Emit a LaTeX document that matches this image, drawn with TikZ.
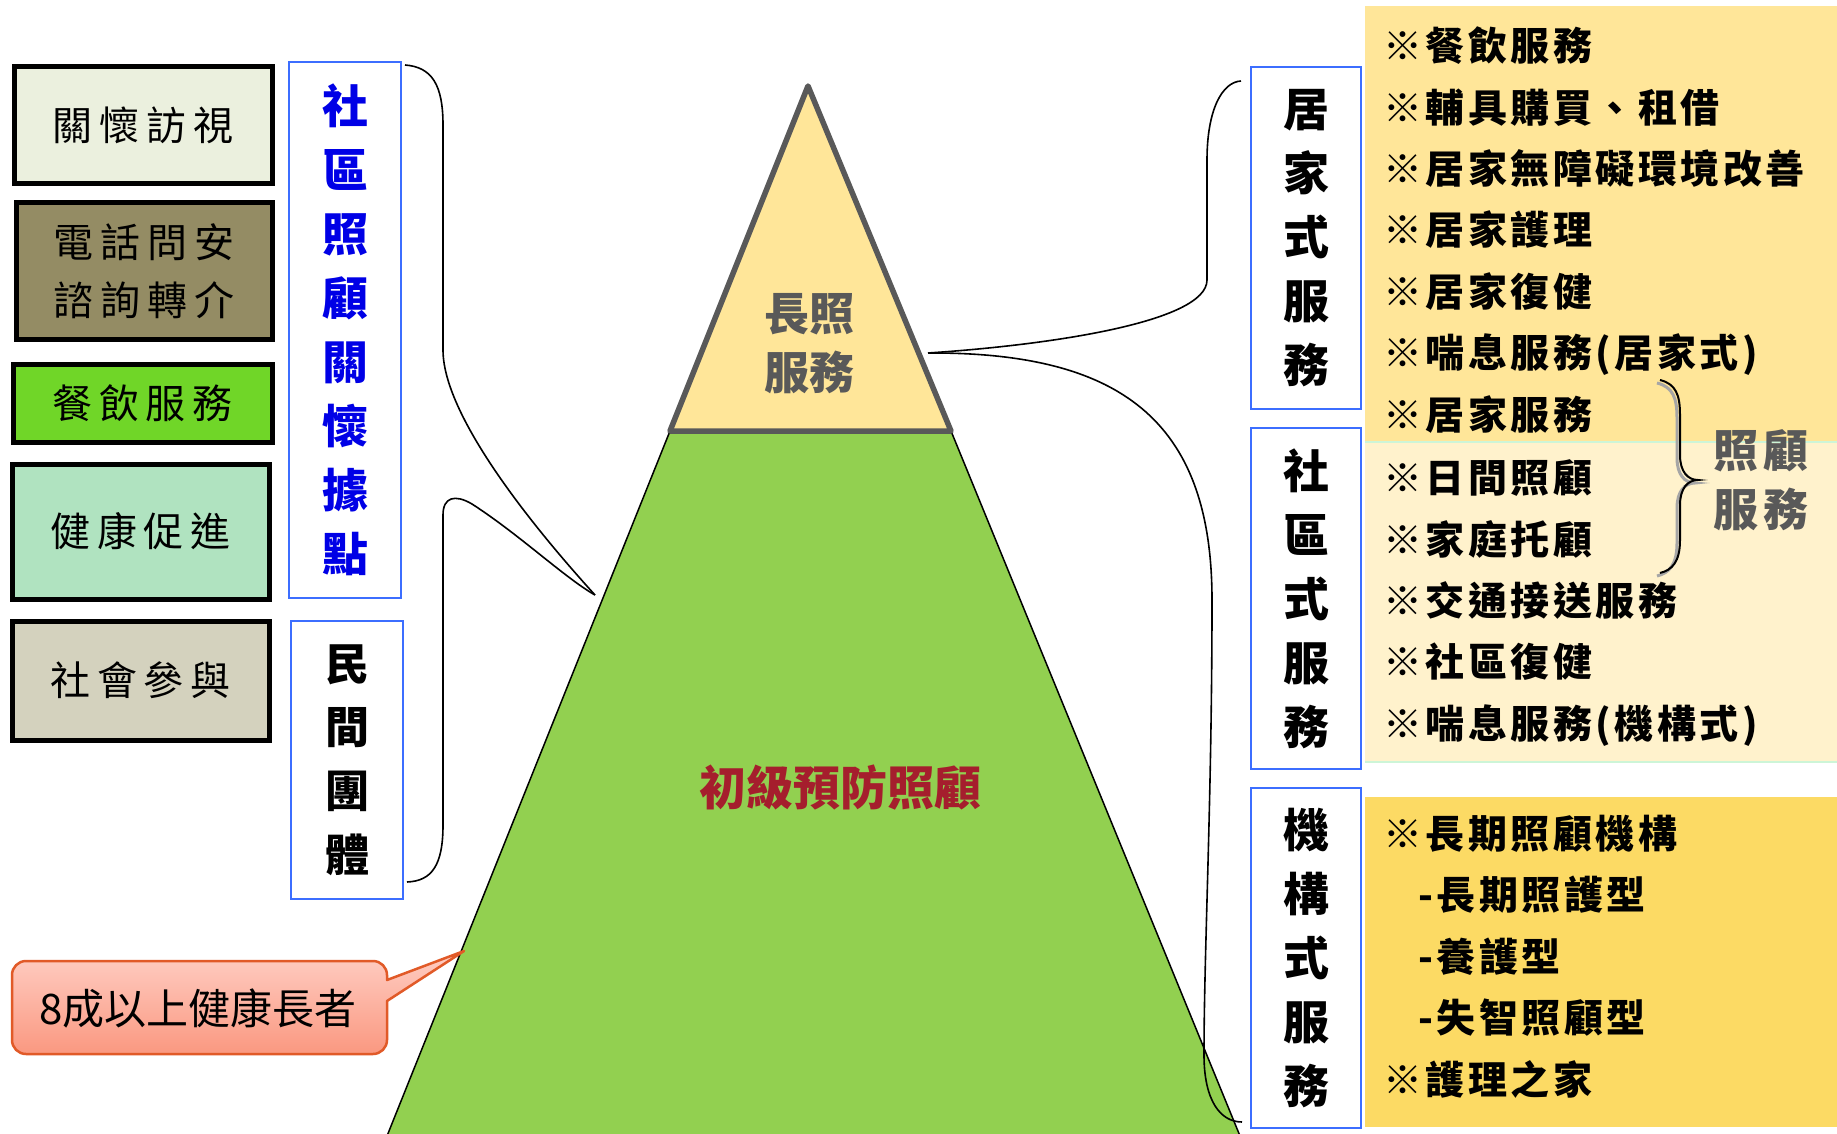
\documentclass[tikz,border=0pt]{standalone}
\usepackage{fontspec}
\newfontfamily\cjk{Noto Sans CJK TC}
\usetikzlibrary{calc}
\definecolor{boxA}{RGB}{235,240,222}
\definecolor{boxB}{RGB}{148,140,100}
\definecolor{boxC}{RGB}{112,214,40}
\definecolor{boxD}{RGB}{176,227,192}
\definecolor{boxE}{RGB}{212,210,190}
\definecolor{bluebd}{RGB}{60,110,255}
\definecolor{panelA}{RGB}{255,230,153}
\definecolor{panelB}{RGB}{255,242,204}
\definecolor{panelC}{RGB}{252,218,100}
\definecolor{pyrgreen}{RGB}{146,208,80}
\definecolor{pyrgray}{RGB}{89,89,89}
\definecolor{darkred}{RGB}{165,30,45}
\definecolor{calloutbd}{RGB}{225,90,40}
\definecolor{calloutTop}{RGB}{255,206,196}
\definecolor{calloutBot}{RGB}{250,152,128}
\definecolor{textblue}{RGB}{0,0,230}
\definecolor{mintline}{RGB}{205,245,215}
\newcommand\lbfont{\cjk\addfontfeature{LetterSpace=17}\fontsize{40}{58}\selectfont}
\newcommand\pnfont{\cjk\bfseries\addfontfeature{LetterSpace=9}\fontsize{39}{61.4}\selectfont}
\begin{document}
\begin{tikzpicture}[x=1pt,y=-1pt,
  leftbox/.style={draw=black, line width=5pt, inner sep=0pt, align=center, font=\lbfont},
  vbox/.style={draw=bluebd, line width=2pt, fill=white, inner sep=0pt, align=center, minimum width=111pt},
  conn/.style={draw=black, line width=1.6pt},
  paneltext/.style={anchor=west, inner sep=0pt, align=left, font=\pnfont}
]
\useasboundingbox (0,0) rectangle (1837,1134);
\fill[white] (0,0) rectangle (1837,1134);

% right panels
\fill[panelA] (1365,6) rectangle (1837,442);
\fill[panelB] (1365,442) rectangle (1837,762);
\fill[panelC] (1365,797) rectangle (1837,1127);
\draw[mintline, line width=1.5pt] (1365,442) -- (1837,442);
\draw[mintline, line width=1.5pt] (1365,762) -- (1837,762);

% left boxes
\node[leftbox, fill=boxA, minimum width=258pt, minimum height=117pt] (visit) at (143,125.5) {關懷訪視};
\node[leftbox, fill=boxB, minimum width=256pt, minimum height=136pt] (phone) at (144,271) {電話問安\\諮詢轉介};
\node[leftbox, fill=boxC, minimum width=259pt, minimum height=78pt] (meal) at (142.5,403) {餐飲服務};
\node[leftbox, fill=boxD, minimum width=257pt, minimum height=135pt] (health) at (140.5,531.5) {健康促進};
\node[leftbox, fill=boxE, minimum width=257pt, minimum height=119pt] (social) at (140.5,680.5) {社會參與};

% vertical blue boxes
\node[vbox, minimum width=112pt, minimum height=536pt, text=textblue,
  font={\cjk\bfseries\fontsize{46}{64}\selectfont}] (shequ) at (345,330) {社\\區\\照\\顧\\關\\懷\\據\\點};
\node[vbox, minimum width=112pt, minimum height=278pt,
  font={\cjk\bfseries\fontsize{44}{63.7}\selectfont}] (minjian) at (347,760) {民\\間\\團\\體};
\node[vbox, minimum width=110pt, minimum height=342pt,
  font={\cjk\bfseries\fontsize{46}{64}\selectfont}] (jujia) at (1306,238) {居\\家\\式\\服\\務};
\node[vbox, minimum width=110pt, minimum height=341pt,
  font={\cjk\bfseries\fontsize{46}{64}\selectfont}] (shequS) at (1306,598.5) {社\\區\\式\\服\\務};
\node[vbox, minimum width=110pt, minimum height=340pt,
  font={\cjk\bfseries\fontsize{46}{64}\selectfont}] (jigou) at (1306,958) {機\\構\\式\\服\\務};

% panel texts
\node[paneltext] (listA) at (1383,230) {※餐飲服務\\※輔具購買、租借\\※居家無障礙環境改善\\※居家護理\\※居家復健\\※喘息服務(居家式)\\※居家服務};
\node[paneltext] (listB) at (1383,603) {※日間照顧\\※家庭托顧\\※交通接送服務\\※社區復健\\※喘息服務(機構式)};
\node[paneltext] (listC) at (1383,956.5) {※長期照顧機構\\\hspace*{35pt}-長期照護型\\\hspace*{35pt}-養護型\\\hspace*{35pt}-失智照顧型\\※護理之家};

% brace
\draw[gray!70, line width=3pt] (1657,383) .. controls (1673,387) and (1677,398) .. (1677,418) -- (1677,458) .. controls (1677,475) and (1685,483) .. (1695,483) .. controls (1685,483) and (1677,491) .. (1677,508) -- (1677,543) .. controls (1677,565) and (1669,573) .. (1657,576);
\draw[black, line width=2pt] (1660,380) .. controls (1676,384) and (1680,395) .. (1680,415) -- (1680,455) .. controls (1680,472) and (1688,480) .. (1698,480) .. controls (1688,480) and (1680,488) .. (1680,505) -- (1680,540) .. controls (1680,562) and (1672,570) .. (1660,573);
\node[text=pyrgray, align=center, inner sep=0pt, font={\cjk\bfseries\addfontfeature{LetterSpace=10}\fontsize{45}{59}\selectfont}] (zgfw) at (1761,480) {照顧\\服務};

% pyramid
\coordinate (apex) at (808,86);
\coordinate (tl) at (670,431);
\coordinate (tr) at (951,431);
\coordinate (bl) at (387,1136);
\coordinate (br) at (1240,1136);
\filldraw[fill=pyrgreen, draw=black, line width=1.5pt] (tl) -- (bl) -- (br) -- (tr) -- cycle;
\filldraw[fill=panelA, draw=pyrgray, line width=5.5pt, line join=round] (apex) -- (tr) -- (tl) -- cycle;
\node[text=pyrgray, align=center, inner sep=0pt, font={\cjk\bfseries\fontsize{45}{59}\selectfont}] (ltc) at (809,344) {長照\\服務};
\node[text=darkred, inner sep=0pt, font={\cjk\bfseries\fontsize{47}{50}\selectfont}] (primary) at (840,788) {初級預防照顧};

% left connectors
\coordinate (tipL) at (595,595);
\draw[conn] ($(shequ.north east)+(3,4)$) .. controls (432,67) and (443,85) .. (443,125) -- (443,350) .. controls (443,420) and (545,540) .. (tipL);
\draw[conn] ($(minjian.south east)+(3,-18)$) .. controls (432,881) and (443,865) .. (443,825) -- (443,515) .. controls (443,497) and (455,494) .. (472,504) .. controls (520,535) and (565,578) .. (tipL);

% right connectors
\coordinate (tipR) at (928,353);
\coordinate (baseR) at (1242,1122);
\draw[conn] (tipR) .. controls (1050,345) and (1207,322) .. (1207,280) -- (1207,160) .. controls (1207,110) and (1222,82) .. ($(jujia.north west)+(-9,15)$);
\draw[conn] (tipR) .. controls (1120,352) and (1212,420) .. (1212,600) .. controls (1212,800) and (1204,950) .. (1204,1055) .. controls (1204,1100) and (1220,1122) .. (baseR);

% callout
\coordinate (callTip) at (464,951);
\shadedraw[top color=calloutTop, bottom color=calloutBot, draw=calloutbd, line width=2.5pt, line join=round]
  (callTip) -- (387,980) [rounded corners=14pt] -- (387,961) -- (12,961) -- (12,1054) -- (387,1054) [sharp corners] -- (387,1001) -- cycle;
\node[inner sep=0pt, font={\cjk\fontsize{42}{50}\selectfont}] (elder) at (198,1008) {8成以上健康長者};
\end{tikzpicture}
\end{document}
